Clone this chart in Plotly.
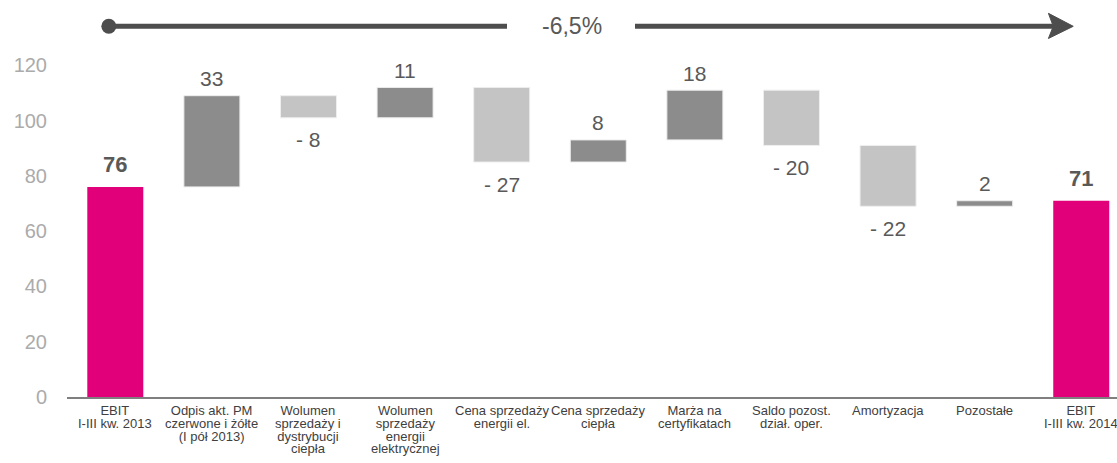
import plotly.graph_objects as go

# Waterfall of EBIT change (mln zł), I-III kw. 2013 -> I-III kw. 2014
categories = [
    "EBIT<br>I-III kw. 2013",
    "Odpis akt. PM<br>czerwone i żółte<br>(I pół 2013)",
    "Wolumen<br>sprzedaży i<br>dystrybucji<br>ciepła",
    "Wolumen<br>sprzedaży<br>energii<br>elektrycznej",
    "Cena sprzedaży<br>energii el.",
    "Cena sprzedaży<br>ciepła",
    "Marża na<br>certyfikatach",
    "Saldo pozost.<br>dział. oper.",
    "Amortyzacja",
    "Pozostałe",
    "EBIT<br>I-III kw. 2014",
]
measures = ["absolute", "relative", "relative", "relative", "relative", "relative",
            "relative", "relative", "relative", "relative", "total"]
values = [76, 33, -8, 11, -27, 8, 18, -20, -22, 2, 71]
y_ticks = [0, 20, 40, 60, 80, 100, 120]
change_label = "-6,5%"

MAGENTA = "#E2007A"
DARK_GREY = "#8C8C8C"
LIGHT_GREY = "#C4C4C4"
TEXT = "#595959"
ARROW = "#4D4D4D"
FONT = "Liberation Sans, Arial, sans-serif"

x = list(range(len(categories)))

fig = go.Figure()
fig.add_trace(go.Waterfall(
    x=x,
    y=values,
    measure=measures,
    width=0.58,
    increasing=dict(marker=dict(color=DARK_GREY, line=dict(color="#EEEEEE", width=1))),
    decreasing=dict(marker=dict(color=LIGHT_GREY, line=dict(color="#EEEEEE", width=1))),
    totals=dict(marker=dict(color=MAGENTA, line=dict(color=MAGENTA, width=0))),
    connector=dict(visible=False),
    hoverinfo="skip",
    showlegend=False,
))

# Value labels: above increases/totals, below decreases
annotations = []
running = 0
for i, (m, v) in enumerate(zip(measures, values)):
    if m == "absolute":
        running = v
        annotations.append(dict(x=i, y=running, text=f"<b>{v}</b>", yanchor="middle",
                                yshift=22, font=dict(size=22, color=TEXT, family=FONT)))
    elif m == "total":
        annotations.append(dict(x=i, y=running, text=f"<b>{running}</b>", yanchor="middle",
                                yshift=22, font=dict(size=22, color=TEXT, family=FONT)))
    else:
        running += v
        if v >= 0:
            annotations.append(dict(x=i, y=running, text=f"{v}", yanchor="middle",
                                    yshift=17, font=dict(size=21, color=TEXT, family=FONT)))
        else:
            annotations.append(dict(x=i, y=running, text=f"- {abs(v)}", yanchor="middle",
                                    yshift=-22, font=dict(size=21, color=TEXT, family=FONT)))

# Category labels: 13px glyphs on a tight ~12.8px line pitch
# (the line pitch follows the base font size, the glyph size follows the span)
for i, cat in enumerate(categories):
    lines = cat.split("<br>")
    text = "<br>".join(f'<span style="font-size:13px">{ln}</span>' for ln in lines)
    annotations.append(dict(x=i, y=0, yref="y", text=text, yanchor="top", valign="top",
                            yshift=-5, borderpad=0,
                            font=dict(size=9.85, color="#404040", family=FONT)))

# Overall change arrow across the top
arrow_y = 134.1
annotations.append(dict(x=4.728, y=arrow_y, text=change_label, yanchor="middle",
                        font=dict(size=23, color=TEXT, family=FONT)))
for a in annotations:
    a.setdefault("xref", "x")
    a.setdefault("yref", "y")
    a["showarrow"] = False

shapes = [
    dict(type="line", xref="x", yref="y", x0=-0.067, x1=4.055, y0=arrow_y, y1=arrow_y,
         line=dict(color=ARROW, width=5)),
    dict(type="line", xref="x", yref="y", x0=5.38, x1=9.75, y0=arrow_y, y1=arrow_y,
         line=dict(color=ARROW, width=5)),
    dict(type="path", xref="x", yref="y",
         path=f"M 9.917 {arrow_y} L 9.66 138.8 L 9.71 {arrow_y} L 9.66 129.7 Z",
         fillcolor=ARROW, line=dict(color=ARROW, width=1)),
]

fig.add_trace(go.Scatter(
    x=[-0.067], y=[arrow_y], mode="markers",
    marker=dict(size=15, color=ARROW), hoverinfo="skip", showlegend=False, cliponaxis=False,
))

fig.update_layout(
    width=1117, height=463,
    margin=dict(l=67, r=0, t=10, b=66),
    paper_bgcolor="white", plot_bgcolor="white",
    annotations=annotations,
    shapes=shapes,
    font=dict(family=FONT),
)
fig.update_xaxes(
    range=[-0.5, 10.37], showticklabels=False, showgrid=False, zeroline=False,
    showline=True, linecolor="#7F7F7F", linewidth=2, ticks="",
)
fig.update_yaxes(
    range=[0, 140], tickvals=y_ticks, showgrid=False, zeroline=False, showline=False,
    ticks="", ticklabelstandoff=19,
    tickfont=dict(size=20, color="#ABABAB", family=FONT),
)

fig.write_html("out.html")
